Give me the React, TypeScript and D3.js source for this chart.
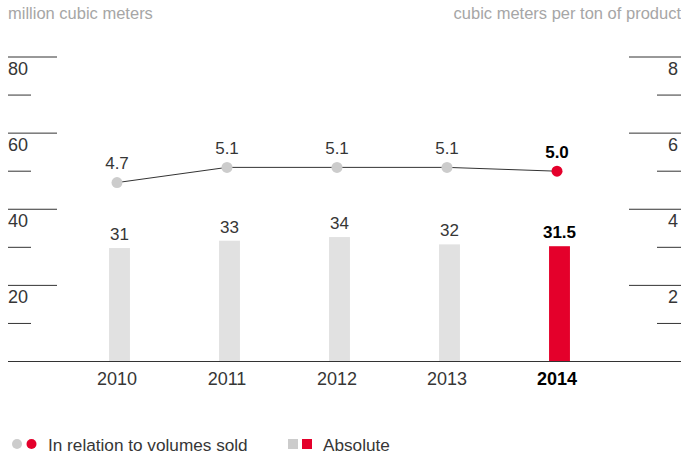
import React from "react";
import * as d3 from "d3";

const years = ["2010", "2011", "2012", "2013", "2014"];
const absolute = [31, 33, 34, 32, 31.5];
const absoluteLabels = ["31", "33", "34", "32", "31.5"];
const relative = [4.7, 5.1, 5.1, 5.1, 5.0];
const relativeLabels = ["4.7", "5.1", "5.1", "5.1", "5.0"];
const leftMajorTicks = [20, 40, 60, 80];
const leftMinorTicks = [10, 30, 50, 70];
const rightMajorTicks = [2, 4, 6, 8];

const W = 681;
const H = 459;
const FONT = "'Liberation Sans', Arial, sans-serif";
const RED = "#e4002b";
const GREY_BAR = "#e1e1e1";
const GREY_DOT = "#cccccc";
const TEXT = "#363636";

export default function App() {
  const baseY = 361.5;
  const topY = 57;
  const yLeft = d3.scaleLinear().domain([0, 80]).range([baseY, topY]);
  const yRight = d3.scaleLinear().domain([0, 8]).range([baseY, topY]);
  const yBar = d3.scaleLinear().domain([0, 83.2]).range([baseY, topY]);
  const x = d3.scaleBand().domain(years).range([62, 612]).paddingInner(0.81).paddingOuter(0.405);
  const cx = (y: string) => (x(y) as number) + x.bandwidth() / 2;
  const barShift = 2.5;
  const last = years.length - 1;

  const line = d3
    .line<number>()
    .x((_, i) => cx(years[i]))
    .y((d) => yRight(d));

  return (
    <svg
      width={W}
      height={H}
      style={{ position: "absolute", left: 0, top: 0, display: "block" }}
      fontFamily={FONT}
    >
      <rect width={W} height={H} fill="#fff" />
      <text x={8} y={19} fontSize={16.5} fill="#a6a6a6">million cubic meters</text>
      <text x={681} y={19} fontSize={16.5} fill="#a6a6a6" textAnchor="end">cubic meters per ton of product</text>

      {leftMajorTicks.map((t) => (
        <g key={"lM" + t}>
          <line x1={8} x2={57} y1={yLeft(t)} y2={yLeft(t)} stroke="#333" strokeWidth={1} />
          <text x={8} y={yLeft(t) + 18} fontSize={18} fill={TEXT}>{t}</text>
        </g>
      ))}
      {leftMinorTicks.map((t) => (
        <line key={"lm" + t} x1={8} x2={31} y1={yLeft(t)} y2={yLeft(t)} stroke="#333" strokeWidth={1} />
      ))}
      {rightMajorTicks.map((t) => (
        <g key={"rM" + t}>
          <line x1={629} x2={681} y1={yRight(t)} y2={yRight(t)} stroke="#333" strokeWidth={1} />
          <text x={678} y={yRight(t) + 18} fontSize={18} fill={TEXT} textAnchor="end">{t}</text>
        </g>
      ))}
      {rightMajorTicks.map((t) => (
        <line key={"rm" + t} x1={657} x2={681} y1={yRight(t - 1)} y2={yRight(t - 1)} stroke="#333" strokeWidth={1} />
      ))}

      {absolute.map((v, i) => (
        <g key={"b" + i}>
          <rect
            x={(x(years[i]) as number) + barShift}
            y={yBar(v)}
            width={x.bandwidth()}
            height={baseY - yBar(v)}
            fill={i === last ? RED : GREY_BAR}
          />
          <text
            x={cx(years[i]) + barShift}
            y={yBar(v) - 8}
            textAnchor="middle"
            fontSize={17}
            fontWeight={i === last ? "bold" : "normal"}
            fill={i === last ? "#000" : TEXT}
          >
            {absoluteLabels[i]}
          </text>
          <text
            x={cx(years[i])}
            y={385}
            textAnchor="middle"
            fontSize={18}
            fontWeight={i === last ? "bold" : "normal"}
            fill={i === last ? "#000" : TEXT}
          >
            {years[i]}
          </text>
        </g>
      ))}

      <line x1={8} x2={681} y1={baseY} y2={baseY} stroke="#333" strokeWidth={1.2} />

      <path d={line(relative) || ""} fill="none" stroke="#333" strokeWidth={1} />
      {relative.map((v, i) => (
        <g key={"p" + i}>
          <circle cx={cx(years[i])} cy={yRight(v)} r={5.5} fill={i === last ? RED : GREY_DOT} />
          <text
            x={cx(years[i])}
            y={yRight(v) - 13.5}
            textAnchor="middle"
            fontSize={17}
            fontWeight={i === last ? "bold" : "normal"}
            fill={i === last ? "#000" : TEXT}
          >
            {relativeLabels[i]}
          </text>
        </g>
      ))}

      <g>
        <circle cx={17} cy={444} r={5} fill={GREY_DOT} />
        <circle cx={31.5} cy={444} r={5} fill={RED} />
        <text x={48} y={451} fontSize={17.2} fill={TEXT}>In relation to volumes sold</text>
        <rect x={288} y={439} width={10} height={10} fill={GREY_DOT} />
        <rect x={302} y={439} width={10} height={10} fill={RED} />
        <text x={323} y={451} fontSize={17.2} fill={TEXT}>Absolute</text>
      </g>
    </svg>
  );
}
